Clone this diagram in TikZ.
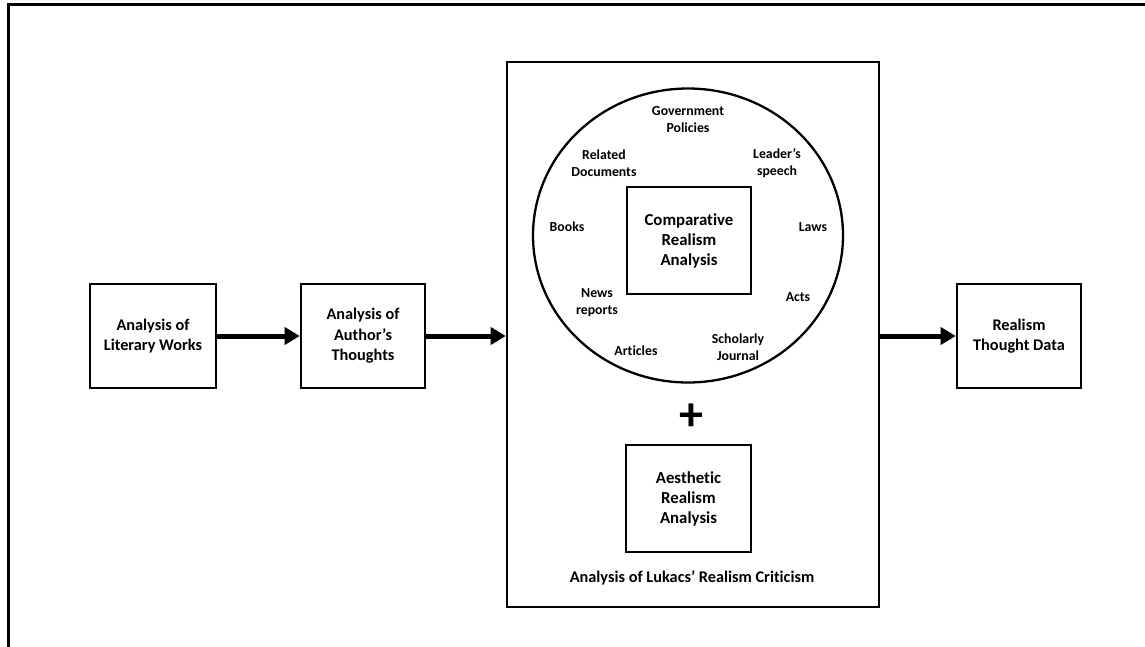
\documentclass[tikz,border=0pt]{standalone}
\usepackage{fontspec}
\setmainfont{Carlito}[Ligatures=NoCommon]
\usetikzlibrary{arrows.meta,shapes.geometric}
\begin{document}
\begin{tikzpicture}[x=1pt,y=-1pt,
  box/.style={draw,line width=2.6pt,rectangle,inner sep=0pt,align=center,font=\fontsize{16.3}{20.5}\selectfont\bfseries},
  lbl/.style={inner sep=0pt,align=center,font=\fontsize{13.8}{17}\selectfont\bfseries},
  flow/.style={line width=5pt,-{Triangle[length=15pt,width=17pt]}}]
\useasboundingbox (0,0) rectangle (1145,647);
\coordinate (fb) at (8,647);
\coordinate (ft) at (8,5);
\coordinate (fr) at (1145,5);
\draw[line width=3pt] (fb) -- (ft) -- (fr);
\node[box,minimum width=126pt,minimum height=104pt] (lit) at (153,336) {Analysis of\\Literary Works};
\node[box,minimum width=124pt,minimum height=104pt] (auth) at (363,336) {Analysis of\\Author’s\\Thoughts};
\node[draw,line width=2.6pt,rectangle,inner sep=0pt,minimum width=372pt,minimum height=545pt] (big) at (693,334.5) {};
\node[draw,line width=2.3pt,ellipse,inner sep=0pt,minimum width=310pt,minimum height=294pt] (circ) at (688,235.5) {};
\node[box,font=\fontsize{16.8}{20}\selectfont\bfseries,minimum width=124pt,minimum height=107pt] (comp) at (689,240.5) {Comparative\\Realism\\Analysis};
\node[inner sep=0pt,font=\fontsize{48}{48}\selectfont\bfseries] (plus) at (691,417) {+};
\node[box,font=\fontsize{16.8}{20}\selectfont\bfseries,minimum width=125pt,minimum height=107pt] (aest) at (688.5,498.5) {Aesthetic\\Realism\\Analysis};
\node[lbl,font=\fontsize{16.3}{18}\selectfont\bfseries] (cap) at (692,578) {Analysis of Lukacs’ Realism Criticism};
\node[box,minimum width=124pt,minimum height=104pt] (data) at (1019,336) {Realism\\Thought Data};
\node[lbl] (gov) at (688,120) {Government\\Policies};
\node[lbl] (rel) at (604,163) {Related\\Documents};
\node[lbl] (lead) at (777,163) {Leader’s\\speech};
\node[lbl] (books) at (567,227) {Books};
\node[lbl] (laws) at (813,227) {Laws};
\node[lbl] (news) at (597,303) {News\\reports};
\node[lbl] (acts) at (798,297) {Acts};
\node[lbl] (schol) at (738,347) {Scholarly\\Journal};
\node[lbl] (art) at (636,351) {Articles};
\draw[flow] (lit.east) -- (auth.west);
\draw[flow] (auth.east) -- (auth.east -| big.west);
\draw[flow] (big.east |- data.west) -- (data.west);
\end{tikzpicture}
\end{document}
